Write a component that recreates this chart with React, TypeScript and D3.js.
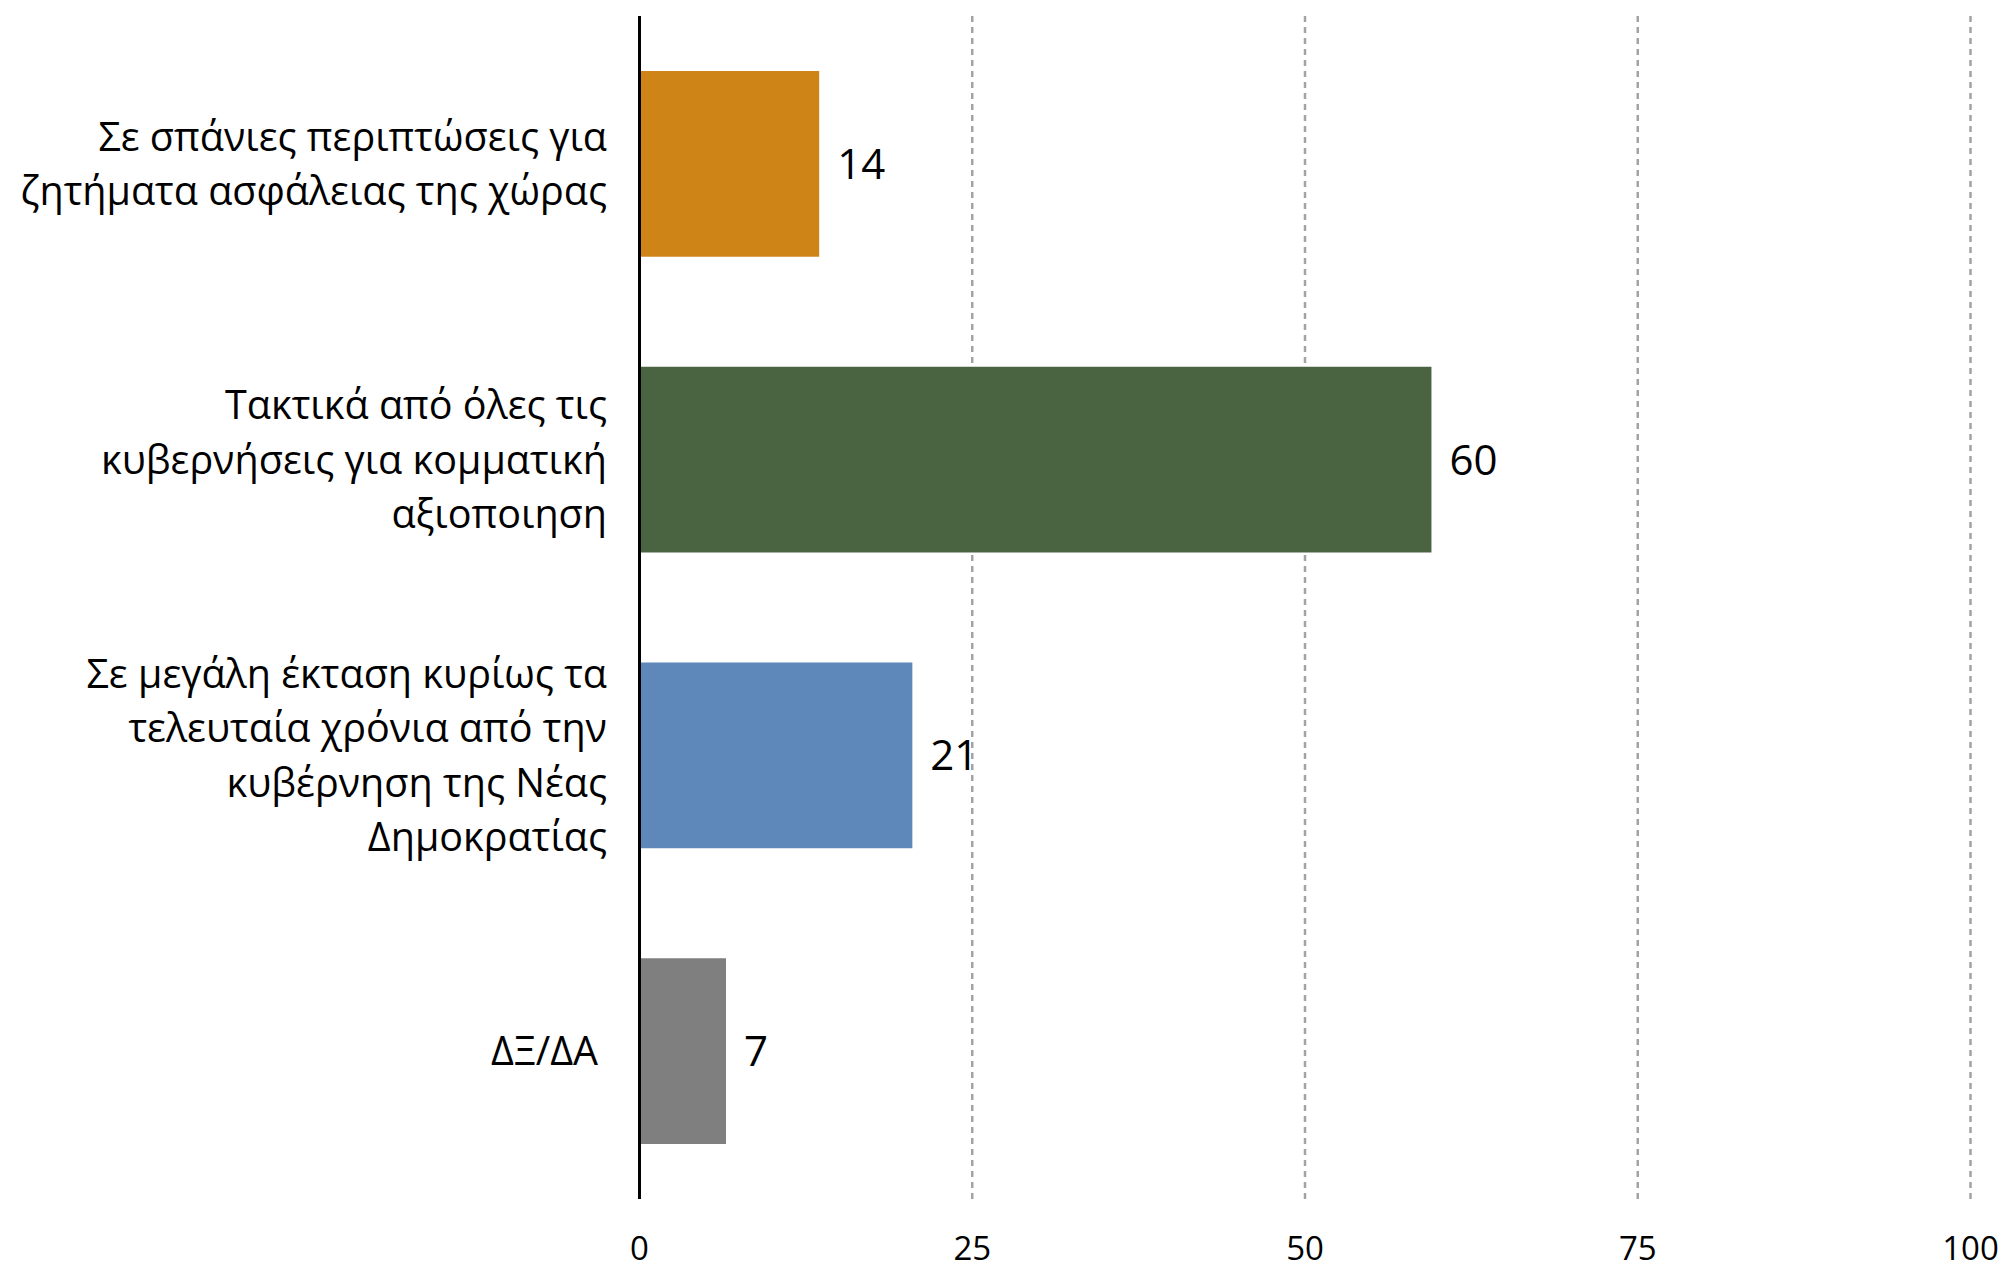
import React, { useEffect } from "react";
import * as d3 from "d3";

const categories = [
  "Σε σπάνιες περιπτώσεις για ζητήματα ασφάλειας της χώρας",
  "Τακτικά από όλες τις κυβερνήσεις για κομματική αξιοποιηση",
  "Σε μεγάλη έκταση κυρίως τα τελευταία χρόνια από την κυβέρνηση της Νέας Δημοκρατίας",
  "ΔΞ/ΔΑ",
];
const categoryLines = [
  ["Σε σπάνιες περιπτώσεις για", "ζητήματα ασφάλειας της χώρας"],
  ["Τακτικά από όλες τις", "κυβερνήσεις για κομματική", "αξιοποιηση"],
  ["Σε μεγάλη έκταση κυρίως τα", "τελευταία χρόνια από την", "κυβέρνηση της Νέας", "Δημοκρατίας"],
  ["ΔΞ/ΔΑ"],
];
const values = [13.5, 59.5, 20.5, 6.5];
const valueLabels = ["14", "60", "21", "7"];
const colors = ["#CF8418", "#4A6341", "#5F88BA", "#7F7F7F"];
const xTicks = [0, 25, 50, 75, 100];

const W = 2009;
const H = 1269;
const FONT = "'Open Sans', 'Noto Sans', sans-serif";

export default function App() {
  useEffect(() => {
    document.body.style.margin = "0";
    document.body.style.overflow = "hidden";
  }, []);

  const x = d3.scaleLinear().domain([0, 100]).range([639.5, 1970.5]);
  const y = d3
    .scaleBand<string>()
    .domain(categories)
    .range([16, 1199])
    .paddingInner(0.372)
    .paddingOuter(0.186);

  const catSize = 39.5;
  const lineH = 54.5;
  const valSize = 42;
  const tickSize = 33;

  return (
    <svg width={W} height={H} style={{ display: "block", background: "#fff" }}>
      {xTicks
        .filter((t) => t !== 0)
        .map((t) => (
          <line
            key={"g" + t}
            x1={x(t)}
            x2={x(t)}
            y1={16}
            y2={1199}
            stroke="#A3A3A3"
            strokeWidth={2.5}
            strokeDasharray="6 5"
          />
        ))}
      {categories.map((c, i) => (
        <rect
          key={"b" + i}
          x={x(0)}
          y={y(c)}
          width={x(values[i]) - x(0)}
          height={y.bandwidth()}
          fill={colors[i]}
        />
      ))}
      <line x1={x(0)} x2={x(0)} y1={16} y2={1199} stroke="#000" strokeWidth={3} />
      {categories.map((c, i) => (
        <text
          key={"v" + i}
          x={x(values[i]) + 18}
          y={(y(c) as number) + y.bandwidth() / 2 + valSize * 0.357}
          fontFamily={FONT}
          fontSize={valSize}
          fill="#000"
        >
          {valueLabels[i]}
        </text>
      ))}
      {categories.map((c, i) => {
        const lines = categoryLines[i];
        const cy = (y(c) as number) + y.bandwidth() / 2;
        const first = cy - ((lines.length - 1) * lineH) / 2 + catSize * 0.357;
        const isLast = i === categories.length - 1;
        const tx = isLast ? 598 : 607;
        return (
          <text
            key={"c" + i}
            x={tx}
            textAnchor="end"
            fontFamily={FONT}
            fontSize={catSize}
            fill="#000"
          >
            {lines.map((l, j) => (
              <tspan key={j} x={tx} y={first + j * lineH}>
                {l}
              </tspan>
            ))}
          </text>
        );
      })}
      {xTicks.map((t) => (
        <text
          key={"t" + t}
          x={x(t)}
          y={1260}
          textAnchor="middle"
          fontFamily={FONT}
          fontSize={tickSize}
          fill="#000"
        >
          {t}
        </text>
      ))}
    </svg>
  );
}
